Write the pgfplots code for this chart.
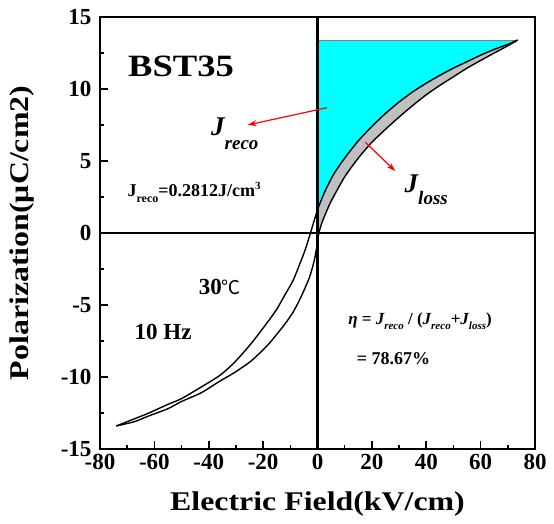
\documentclass[border=0pt]{standalone}
\usepackage{pgfplots}
\pgfplotsset{compat=1.18}
\usepackage{pgfplotstable}
\usepgfplotslibrary{fillbetween}
\usetikzlibrary{arrows.meta}
\usepackage{fontspec}
\setmainfont{Liberation Serif}
\newfontfamily\wide[FakeStretch=1.18]{Liberation Serif}
\newfontfamily\cjk{Noto Sans CJK SC}
\definecolor{aqua}{RGB}{0,255,255}
\definecolor{lossgray}{RGB}{192,192,192}

% descending branch (upper), from +Emax to -Emax
\pgfplotstableread{
E P
73.6 13.4
70 13.1
65 12.75
60 12.35
55 11.9
50 11.45
45 10.95
40 10.4
35 9.8
30 9.1
25 8.3
20 7.4
15 6.4
10 5.2
6 4.1
3 3.0
1 2.1
0 1.6
-1 1.0
-2.6 0
-4.4 -1.1
-6.2 -2.0
-9 -3.3
-12.3 -4.4
-15 -5.3
-18.4 -6.2
-24.5 -7.7
-30.6 -9.0
-36 -9.9
-42.8 -10.7
-50 -11.5
-55 -11.9
-62 -12.5
-67.3 -12.9
-74 -13.4
}\desc

% ascending branch (lower), from -Emax to +Emax
\pgfplotstableread{
E P
-74 -13.4
-67.3 -13.1
-62 -12.7
-55 -12.2
-50 -11.7
-42.8 -11.1
-36 -10.3
-30.6 -9.7
-24.5 -8.9
-18.4 -7.8
-12.3 -6.4
-9 -5.5
-6.2 -4.5
-3 -3.1
-1.3 -2.0
-0.3 -1.0
0.5 0
2 0.9
5 2.2
10 3.9
15 5.2
20 6.3
25 7.2
30 8.05
35 8.85
40 9.6
45 10.25
50 10.85
55 11.45
60 11.98
65 12.5
70 13.0
73.6 13.4
}\asc

\pgfplotstableread{
E P
0 13.4
73.6 13.4
}\topline

\begin{document}
\begin{tikzpicture}
\begin{axis}[
    name=ax,
    scale only axis,
    width=435pt, height=432pt,
    xmin=-80, xmax=80, ymin=-15, ymax=15,
    xtick={-80,-60,...,80},
    xticklabels={-80,-60,-40,-20,0,20,40,60,80},
    ytick={-15,-10,...,15},
    yticklabels={-15,-10,-5,0,5,10,15},
    minor x tick num=1, minor y tick num=1,
    tick pos=left, tick align=inside,
    major tick length=8pt, minor tick length=4pt,
    axis line style={line width=2.2pt},
    every tick/.style={black, line width=1.6pt},
    tick label style={font=\fontsize{23}{26}\selectfont\bfseries},
    xticklabel style={yshift=-2pt},
    yticklabel style={xshift=-5pt},
    xlabel={Electric Field(kV/cm)},
    ylabel={Polarization(μC/cm2)},
    xlabel style={font=\wide\fontsize{27}{30}\selectfont\bfseries,
        at={(axis description cs:0.5,-0.127)}, anchor=center},
    ylabel style={font=\wide\fontsize{27}{29}\selectfont\bfseries,
        at={(axis description cs:-0.18,0.5)}, anchor=center},
    clip=false,
]
\addplot[name path=top, draw=none] table {\topline};
\addplot[name path=up, draw=none, smooth, tension=0.4] table {\desc};
\addplot[name path=lo, draw=none, smooth, tension=0.4] table {\asc};
\addplot[aqua] fill between[of=top and up, soft clip={domain=0:73.6}];
\addplot[lossgray] fill between[of=up and lo, soft clip={domain=0.3:73.6}];
\addplot[gray, line width=0.8pt] table {\topline};
\addplot[black, line width=1.4pt, smooth, tension=0.4] table {\desc};
\addplot[black, line width=1.4pt, smooth, tension=0.4] table {\asc};
% crosshair through the origin
\addplot[black, line width=2.6pt] coordinates {(0,-15) (0,15)};
\addplot[black, line width=2.4pt] coordinates {(-80,0) (80,0)};
% arrows
\addplot[red, line width=1.2pt, -{Stealth[length=9pt,width=6pt]}] coordinates {(3.5,8.7) (-25.7,7.5)};
\addplot[red, line width=1.2pt, -{Stealth[length=9pt,width=6pt]}] coordinates {(17.6,6.3) (28.6,4.3)};

\node[font=\wide\fontsize{31}{34}\selectfont\bfseries] at (axis cs:-50.2,11.6) {BST35};
\node[font=\fontsize{27}{30}\selectfont\bfseries\itshape] at (axis cs:-30.4,6.9)
    {J\raisebox{-14pt}{\fontsize{19}{20}\selectfont reco}};
\node[font=\fontsize{27}{30}\selectfont\bfseries\itshape] at (axis cs:40,3.0)
    {J\raisebox{-12pt}{\fontsize{19}{20}\selectfont loss}};
\node[font=\fontsize{18}{20}\selectfont\bfseries] at (axis cs:-45.4,2.8)
    {J\raisebox{-6pt}{\fontsize{12}{13}\selectfont reco}=0.2812J/cm\raisebox{7pt}{\fontsize{11}{12}\selectfont 3}};
\node[font=\fontsize{23}{25}\selectfont\bfseries] at (axis cs:-35.9,-3.75)
    {30{\cjk\mdseries\fontsize{19}{20}\selectfont ℃}};
\node[font=\fontsize{23}{25}\selectfont\bfseries] at (axis cs:-56.8,-6.9) {10 Hz};
\node[font=\fontsize{17}{19}\selectfont\bfseries] at (axis cs:37.7,-6.1)
    {\textit{η} = \textit{J\raisebox{-5pt}{\fontsize{11}{12}\selectfont reco}} / (\textit{J\raisebox{-5pt}{\fontsize{11}{12}\selectfont reco}}+\textit{J\raisebox{-5pt}{\fontsize{11}{12}\selectfont loss}})};
\node[font=\fontsize{18}{20}\selectfont\bfseries, anchor=west] at (axis cs:13.2,-8.75) {= 78.67\%};
\end{axis}
% page margins as in the reference
\path[use as bounding box] ([xshift=-100pt,yshift=17pt]ax.north west)
    rectangle ([xshift=19pt,yshift=-75pt]ax.south east);
\end{tikzpicture}
\end{document}
